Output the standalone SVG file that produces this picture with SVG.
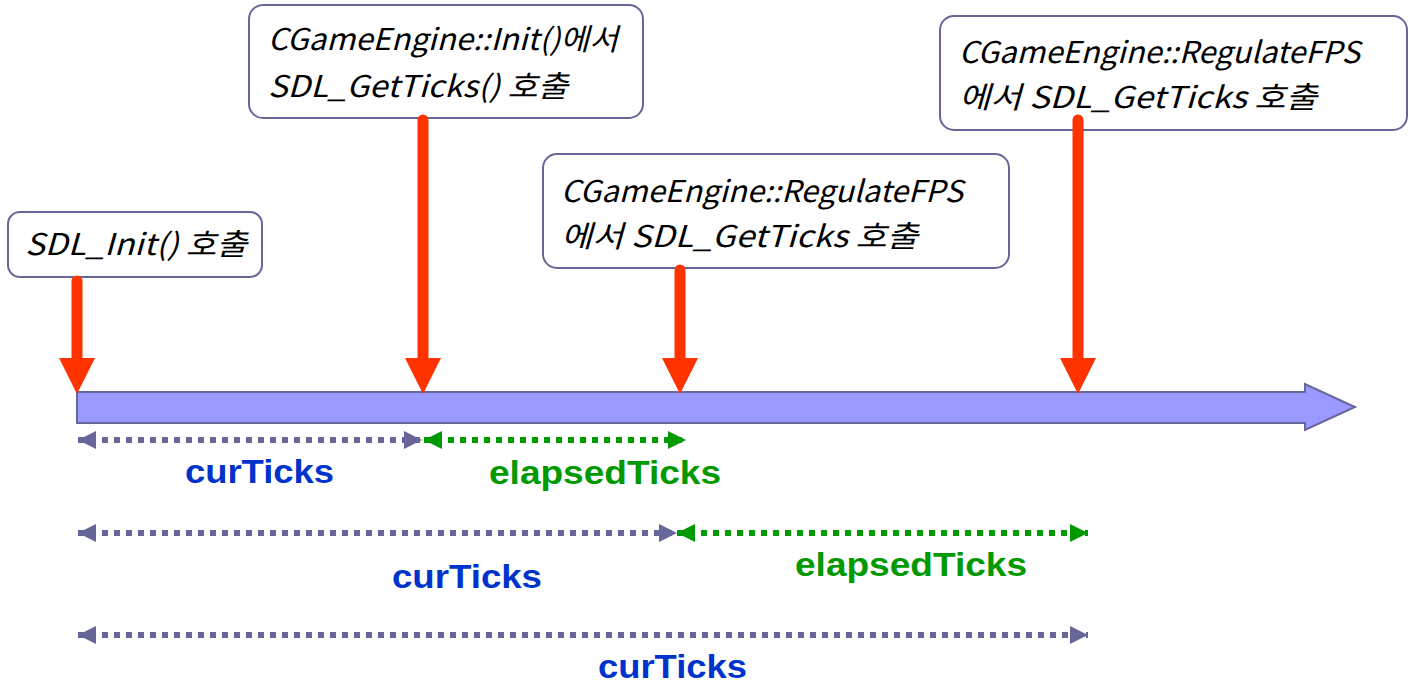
<svg xmlns="http://www.w3.org/2000/svg" width="1416" height="686" viewBox="0 0 1416 686">
<defs>
<style>
.box{fill:#fff;stroke:#666699;stroke-width:2}
.note{font-family:"Noto Sans CJK KR","Liberation Sans",sans-serif;font-style:italic;font-size:30px;fill:#000}
.red{fill:#ff3300}
.shaft{stroke:#ff3300;stroke-width:11;stroke-linecap:round}
.dg{stroke:#666699;stroke-width:6;stroke-dasharray:6 6;fill:none}
.dgr{stroke:#009900;stroke-width:6;stroke-dasharray:6 6;fill:none}
.lab{font-family:"Liberation Sans",Arial,sans-serif;font-weight:bold;font-size:34px}
.blue{fill:#0033cc}
.green{fill:#009900}
</style>
<marker id="hg" markerUnits="userSpaceOnUse" markerWidth="20" markerHeight="20" refX="18" refY="10" orient="auto-start-reverse"><path d="M0,1 L18,10 L0,19 z" fill="#666699"/></marker>
<marker id="hgr" markerUnits="userSpaceOnUse" markerWidth="20" markerHeight="20" refX="18" refY="10" orient="auto-start-reverse"><path d="M0,1 L18,10 L0,19 z" fill="#009900"/></marker>
</defs>
<g id="timeline">
<path d="M77,392 L1305,392 L1305,384 L1355,407 L1305,430 L1305,423 L77,423 z" fill="#9999ff" stroke="#666699" stroke-width="2"/>
</g>
<g id="n1">
<rect class="box" x="8" y="212" width="254" height="65" rx="12"/>
<text class="note" x="25" y="255" textLength="222" lengthAdjust="spacingAndGlyphs">SDL_Init() 호출</text>
</g>
<g id="n2">
<rect class="box" x="249" y="5" width="394" height="113" rx="14"/>
<text class="note" x="268" y="50" textLength="350" lengthAdjust="spacingAndGlyphs">CGameEngine::Init()에서</text>
<text class="note" x="268" y="97" textLength="300" lengthAdjust="spacingAndGlyphs">SDL_GetTicks() 호출</text>
</g>
<g id="n3">
<rect class="box" x="543" y="154" width="466" height="114" rx="14"/>
<text class="note" x="561" y="202" textLength="402" lengthAdjust="spacingAndGlyphs">CGameEngine::RegulateFPS</text>
<text class="note" x="561" y="247" textLength="357" lengthAdjust="spacingAndGlyphs">에서 SDL_GetTicks 호출</text>
</g>
<g id="n4">
<rect class="box" x="940" y="16" width="467" height="114" rx="14"/>
<text class="note" x="959" y="63" textLength="401" lengthAdjust="spacingAndGlyphs">CGameEngine::RegulateFPS</text>
<text class="note" x="959" y="108" textLength="358" lengthAdjust="spacingAndGlyphs">에서 SDL_GetTicks 호출</text>
</g>
<g id="connectors">
<line class="shaft" x1="77" y1="281" x2="77" y2="362"/>
<polygon class="red" points="59,358 95,358 77,394"/>
<line class="shaft" x1="423" y1="120" x2="423" y2="362"/>
<polygon class="red" points="405,358 441,358 423,394"/>
<line class="shaft" x1="680" y1="270" x2="680" y2="362"/>
<polygon class="red" points="662,358 698,358 680,394"/>
<line class="shaft" x1="1078" y1="120" x2="1078" y2="362"/>
<polygon class="red" points="1060,358 1096,358 1078,394"/>
<line class="dg" x1="78" y1="440" x2="422" y2="440" marker-start="url(#hg)" marker-end="url(#hg)"/>
<line class="dgr" x1="424" y1="440" x2="686" y2="440" marker-start="url(#hgr)" marker-end="url(#hgr)"/>
<line class="dg" x1="78" y1="533" x2="677" y2="533" marker-start="url(#hg)" marker-end="url(#hg)"/>
<line class="dgr" x1="677" y1="533" x2="1088" y2="533" marker-start="url(#hgr)" marker-end="url(#hgr)"/>
<line class="dg" x1="78" y1="635" x2="1088" y2="635" marker-start="url(#hg)" marker-end="url(#hg)"/>
</g>
<g id="labels">
<text class="lab blue" x="185" y="483" textLength="149" lengthAdjust="spacingAndGlyphs">curTicks</text>
<text class="lab green" x="489" y="484" textLength="232" lengthAdjust="spacingAndGlyphs">elapsedTicks</text>
<text class="lab blue" x="392" y="588" textLength="150" lengthAdjust="spacingAndGlyphs">curTicks</text>
<text class="lab green" x="795" y="576" textLength="232" lengthAdjust="spacingAndGlyphs">elapsedTicks</text>
<text class="lab blue" x="598" y="678" textLength="149" lengthAdjust="spacingAndGlyphs">curTicks</text>
</g>
</svg>
